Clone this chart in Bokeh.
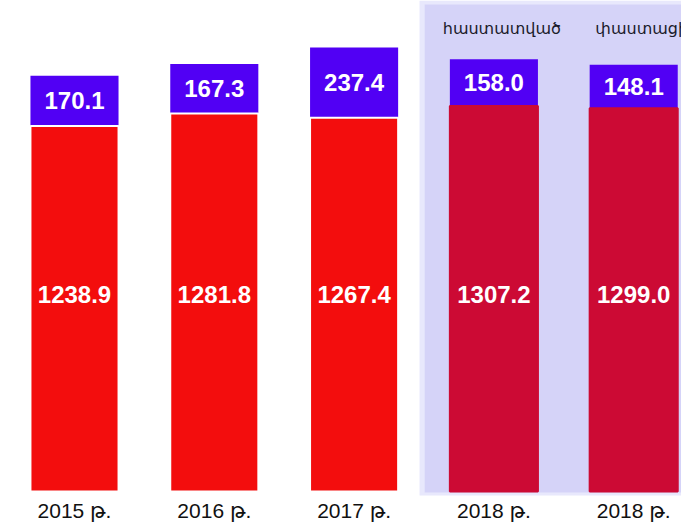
from bokeh.plotting import figure
from bokeh.models import ColumnDataSource, BoxAnnotation, Range1d
from bokeh.core.properties import value
from bokeh.embed import file_html
from bokeh.resources import INLINE

# ---- data ----
years = ["2015 թ.", "2016 թ.", "2017 թ.", "2018 թ.", "2018 թ."]
headers = ["", "", "", "հաստատված", "փաստացի"]
red_values = [1238.9, 1281.8, 1267.4, 1307.2, 1299.0]
blue_values = [170.1, 167.3, 237.4, 158.0, 148.1]

# ---- styles ----
RED = "#F30D0D"
CRIMSON = "#CC0A34"
BLUE = "#5100F4"
n = len(years)
idx = list(range(n))
red_colors = [RED, RED, RED, CRIMSON, CRIMSON]
red_lines = ["white", "white", "white", CRIMSON, CRIMSON]

totals = [r + b for r, b in zip(red_values, blue_values)]
blue_mid = [r + b / 2 for r, b in zip(red_values, blue_values)]

src = ColumnDataSource(dict(
    x=idx, year=years, header=headers,
    red=red_values, blue=blue_values, total=totals, blue_mid=blue_mid,
    red_lbl=[f"{v:.1f}" for v in red_values],
    blue_lbl=[f"{v:.1f}" for v in blue_values],
    red_color=red_colors, red_line=red_lines,
))

W, H = 681, 523
p = figure(width=W, height=H, output_backend="svg", toolbar_location=None,
           x_range=Range1d(-0.5293, 4.3419), y_range=Range1d(-108.5, 1664.5),
           min_border=0, outline_line_color=None, background_fill_color="white")
p.axis.visible = False
p.grid.visible = False

# 2018 panel
p.add_layout(BoxAnnotation(left=2.468, bottom=-13.6, fill_color="#E8E8FC",
                           fill_alpha=1, line_color=None, level="underlay"))
p.add_layout(BoxAnnotation(left=2.505, bottom=-3.4, top=1651, fill_color="#D5D3F8",
                           fill_alpha=1, line_color=None, level="underlay"))

BW = 0.63
p.vbar(x="x", bottom="red", top="total", width=BW, source=src,
       fill_color=BLUE, line_color=None)
p.vbar(x="x", bottom=0, top="red", width=BW, source=src,
       fill_color="red_color", line_color="red_line", line_width=2)

lab_font = value("Liberation Sans")
p.text(x="x", y="blue_mid", text="blue_lbl", source=src, text_color="white",
       text_font=lab_font, text_font_style="bold", text_font_size="24px",
       text_align="center", text_baseline="middle")
p.text(x="x", y=668, text="red_lbl", source=src, text_color="white",
       text_font=lab_font, text_font_style="bold", text_font_size="24px",
       text_align="center", text_baseline="middle")
p.text(x="x", y=-66, text="year", source=src, text_color="#111111",
       text_font=value("Liberation Sans, DejaVu Sans"), text_font_size="21px",
       text_align="center", text_baseline="middle")
p.text(x="x", y=1570, text="header", source=src, text_color="#1c1c2c",
       text_font=value("DejaVu Sans"), text_font_size="16px", x_offset=8,
       text_align="center", text_baseline="middle")

open("out.html", "w").write(file_html(p, INLINE))
